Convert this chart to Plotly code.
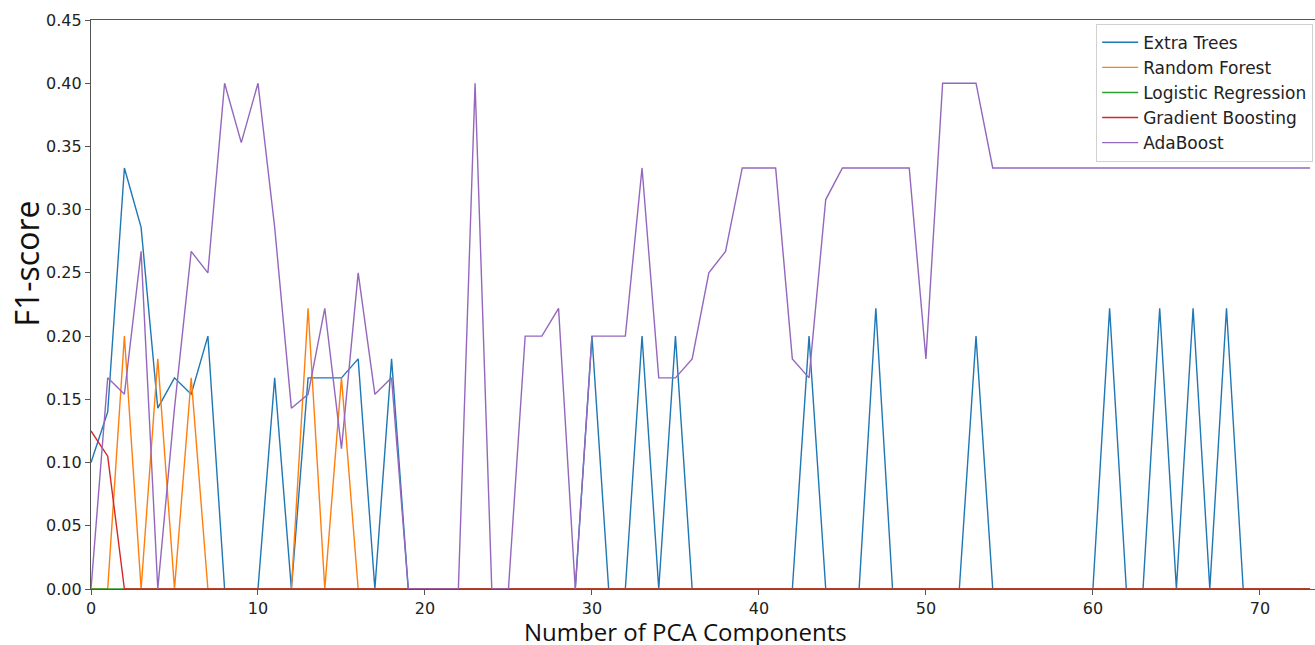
import plotly.graph_objects as go

components = list(range(74))

extra_trees = [0.10, 0.14, 0.333, 0.286, 0.143, 0.167, 0.154, 0.20, 0, 0,
               0, 0.167, 0, 0.167, 0.167, 0.167, 0.182, 0, 0.182, 0,
               0, 0, 0, 0, 0, 0, 0, 0, 0, 0,
               0.20, 0, 0, 0.20, 0, 0.20, 0, 0, 0, 0,
               0, 0, 0, 0.20, 0, 0, 0, 0.222, 0, 0,
               0, 0, 0, 0.20, 0, 0, 0, 0, 0, 0,
               0, 0.222, 0, 0, 0.222, 0, 0.222, 0, 0.222, 0,
               0, 0, 0, 0]

random_forest = [0, 0, 0.20, 0, 0.182, 0, 0.167, 0, 0, 0,
                 0, 0, 0, 0.222, 0, 0.167, 0, 0, 0, 0] + [0] * 54

logistic_regression = [0] * 74

gradient_boosting = [0.125, 0.105] + [0] * 72

adaboost = [0, 0.167, 0.154, 0.267, 0, 0.143, 0.267, 0.25, 0.40, 0.353,
            0.40, 0.286, 0.143, 0.154, 0.222, 0.111, 0.25, 0.154, 0.167, 0,
            0, 0, 0, 0.40, 0, 0, 0.20, 0.20, 0.222, 0,
            0.20, 0.20, 0.20, 0.333, 0.167, 0.167, 0.182, 0.25, 0.267, 0.333,
            0.333, 0.333, 0.182, 0.167, 0.308, 0.333, 0.333, 0.333, 0.333, 0.333,
            0.182, 0.40, 0.40, 0.40] + [0.333] * 20

series_names = ["Extra Trees", "Random Forest", "Logistic Regression",
                "Gradient Boosting", "AdaBoost"]
series_values = [extra_trees, random_forest, logistic_regression,
                 gradient_boosting, adaboost]
colors = ["#1f77b4", "#ff7f0e", "#2ca02c", "#d62728", "#9467bd"]

y_ticks = [0.00, 0.05, 0.10, 0.15, 0.20, 0.25, 0.30, 0.35, 0.40, 0.45]
x_ticks = [0, 10, 20, 30, 40, 50, 60, 70]

fig = go.Figure()
for name, vals, c in zip(series_names, series_values, colors):
    fig.add_trace(go.Scatter(x=components, y=vals, mode="lines", name=name,
                             line=dict(color=c, width=1.4)))

axis_color = "#555555"
fig.update_layout(
    width=1315, height=645,
    margin=dict(l=91, r=0, t=20, b=55.5),
    plot_bgcolor="white", paper_bgcolor="white",
    font=dict(family="DejaVu Sans", size=16, color="#222222"),
    showlegend=True,
    legend=dict(x=0.9985, y=0.9935, xanchor="right", yanchor="top",
                bgcolor="white", bordercolor="#d0d0d0", borderwidth=1,
                font=dict(family="DejaVu Sans", size=17, color="#222222"),
                tracegroupgap=0, itemwidth=36),
    xaxis=dict(range=[0, 73.3], tickvals=x_ticks, showgrid=False, zeroline=False,
               showline=True, linecolor=axis_color, linewidth=1.2, mirror=True,
               ticks="outside", ticklen=5, tickcolor=axis_color,
               tickfont=dict(family="DejaVu Sans", size=16)),
    yaxis=dict(range=[0, 0.45], tickvals=y_ticks, tickformat=".2f", showgrid=False,
               zeroline=False, showline=True, linecolor=axis_color, linewidth=1.2,
               mirror=True, ticks="outside", ticklen=5, tickcolor=axis_color,
               tickfont=dict(family="DejaVu Sans", size=16)),
    annotations=[
        dict(text="Number of PCA Components", xref="paper", yref="paper",
             x=0.486, y=-0.0745, xanchor="center", yanchor="middle", borderpad=0,
             showarrow=False, font=dict(family="Open Sans", size=24, color="#111111")),
        dict(text="F1-score", xref="paper", yref="paper",
             x=-0.0525, y=0.5716, xanchor="center", yanchor="middle", textangle=-90,
             showarrow=False, font=dict(family="Open Sans", size=32, color="#111111")),
    ],
)

fig.write_html("out.html",
               config={"displayModeBar": False},
               post_script="document.body.style.margin='0';document.body.style.overflow='hidden';")
